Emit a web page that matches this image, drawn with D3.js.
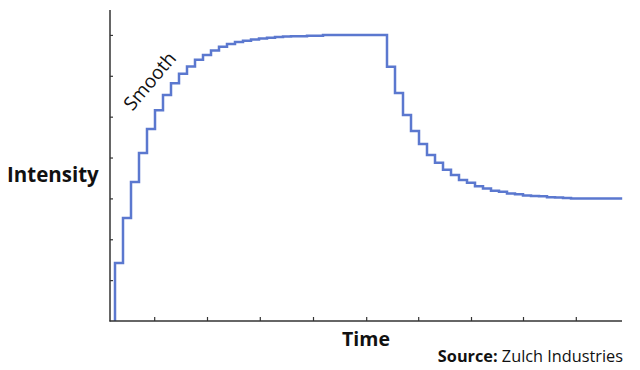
<!DOCTYPE html>
<html>
<head>
<meta charset="utf-8">
<script src="https://cdn.jsdelivr.net/npm/d3@7/dist/d3.min.js"></script>
<style>
  body { margin: 0; background: #fff; }
  text { font-family: "Open Sans", "Noto Sans", sans-serif; fill: #111; }
</style>
</head>
<body>
<svg id="chart" width="640" height="370"></svg>
<script>
// step levels, one per sample period
var riseLevels = [1.42, 2.52, 3.40, 4.11, 4.70, 5.16, 5.53, 5.82, 6.05, 6.23,
  6.39, 6.51, 6.62, 6.71, 6.78, 6.83, 6.86, 6.89, 6.91, 6.93,
  6.95, 6.96, 6.97, 6.97, 6.98, 6.98, 7.0, 7.0, 7.0, 7.0,
  7.0, 7.0, 7.0, 7.0];
var fallLevels = [6.22, 5.58, 5.04, 4.65, 4.33, 4.06, 3.87, 3.70, 3.57, 3.45,
  3.38, 3.30, 3.24, 3.19, 3.16, 3.12, 3.10, 3.07, 3.06, 3.05,
  3.03, 3.02, 3.01, 3.0, 3.0, 3.0, 3.0, 3.0, 3.0, 3.0];
var endTime = 63.4;
var xTicks = [4.9, 11.5, 18.1, 24.75, 31.4, 37.9, 44.5, 51.0, 57.6];
var yTicks = [1, 2, 3, 4, 5, 6, 7];

var svg = d3.select('#chart');

var x = d3.scaleLinear().domain([-0.625, 63.375]).range([110, 622]);
var y = d3.scaleLinear().domain([0, 7.61]).range([321, 10]);

var levels = riseLevels.concat(fallLevels);
var points = [{t: 0, v: 0}];
levels.forEach(function(v, i) { points.push({t: i, v: v}); });
points.push({t: endTime, v: levels[levels.length - 1]});

var line = d3.line()
  .x(function(d) { return x(d.t); })
  .y(function(d) { return y(d.v); })
  .curve(d3.curveStepAfter);

svg.append('path')
  .datum(points)
  .attr('d', line)
  .attr('fill', 'none')
  .attr('stroke', '#5b78cf')
  .attr('stroke-width', 2.5);

// axes: no labels, ticks pointing inward
var yAxis = svg.append('g')
  .attr('transform', 'translate(110,0)')
  .call(d3.axisRight(y).tickValues(yTicks).tickSize(3).tickFormat(''));
var xAxis = svg.append('g')
  .attr('transform', 'translate(0,321)')
  .call(d3.axisTop(x).tickValues(xTicks).tickSize(4).tickFormat(''));

[yAxis, xAxis].forEach(function(g) {
  g.select('.domain').remove();
  g.selectAll('.tick line').attr('stroke', '#333').attr('stroke-width', 1.2);
});
svg.append('line').attr('x1', 110).attr('x2', 110).attr('y1', y(7.61)).attr('y2', 321.5)
  .attr('stroke', '#333').attr('stroke-width', 1.5);
svg.append('line').attr('x1', 109.5).attr('x2', 622).attr('y1', 321).attr('y2', 321)
  .attr('stroke', '#333').attr('stroke-width', 1.5);

svg.append('text')
  .attr('x', 7).attr('y', 182)
  .attr('font-size', 20.5).attr('font-weight', 'bold')
  .text('Intensity');

svg.append('text')
  .attr('x', 366).attr('y', 346)
  .attr('text-anchor', 'middle')
  .attr('font-size', 19.5).attr('font-weight', 'bold')
  .text('Time');

var src = svg.append('text')
  .attr('x', 623).attr('y', 362)
  .attr('text-anchor', 'end')
  .attr('font-size', 16.3);
src.append('tspan').attr('font-weight', 'bold').text('Source:');
src.append('tspan').text(' Zulch Industries');

svg.append('text')
  .attr('transform', 'translate(151,82) rotate(-50)')
  .attr('text-anchor', 'middle')
  .attr('dominant-baseline', 'middle')
  .attr('font-size', 19)
  .text('Smooth');
</script>
</body>
</html>
